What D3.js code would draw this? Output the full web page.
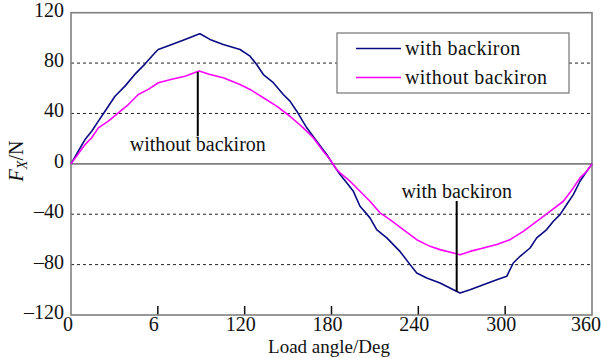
<!DOCTYPE html>
<html><head><meta charset="utf-8">
<script src="https://cdn.jsdelivr.net/npm/d3@7"></script>
<style>body{margin:0;background:#fff}svg{display:block}text{font-family:"Liberation Serif","Times New Roman",serif;fill:#111}</style>
</head><body><svg id="c" width="603" height="358"></svg>
<script>
// ---- data ----
const withAngle = [0,5.0,9.7,14.3,18.9,23.5,30.4,37.3,44.2,51.1,58.0,60.3,69.6,78.8,88.0,89.1,96.0,105.2,116.8,123.7,128.3,132.9,139.8,146.7,151.3,156.0,162.9,169.8,176.7,181.2,185.9,190.5,195.1,199.7,206.6,211.2,218.2,227.3,234.3,238.9,245.8,255.0,264.2,268.8,275.7,284.9,294.2,301.1,305.6,310.3,317.2,321.8,328.7,333.3,337.9,342.5,347.1,351.7,356.4,360];
const withForce = [0,10.0,19.3,25.9,33.9,41.8,53.7,61.7,71.2,79.2,88.2,90.8,94.8,98.8,102.8,103.3,98.8,94.8,90.8,85.5,78.9,70.9,64.4,55.1,49.8,41.8,28.6,18.0,7.4,-0.6,-8.5,-15.1,-21.8,-33.7,-42.9,-52.2,-58.8,-69.5,-80.0,-86.7,-90.6,-94.6,-99.9,-102.5,-99.9,-95.9,-92.0,-89.3,-78.7,-73.4,-66.8,-58.8,-52.2,-45.6,-40.3,-32.3,-24.4,-13.8,-5.9,0];
const withoutAngle = [0,9.7,14.3,18.9,25.8,32.7,39.6,46.5,53.4,60.3,69.6,78.8,88.0,89.1,96.0,105.2,116.8,123.7,132.9,142.1,151.3,160.5,167.4,174.3,179.0,183.6,185.9,192.8,199.7,206.6,213.5,220.4,229.6,238.9,248.1,255.0,264.2,268.8,275.7,284.9,294.2,303.3,312.5,321.8,331.0,340.2,347.1,351.7,356.4,360];
const withoutForce = [0,15.3,20.7,28.6,33.9,40.5,47.1,55.1,59.1,64.4,67.1,69.6,73.6,73.6,71.0,68.4,63.0,59.1,52.5,45.8,37.8,28.6,20.7,10.0,3.4,-4.5,-7.2,-13.8,-21.8,-29.7,-38.9,-44.3,-52.2,-60.2,-65.5,-68.1,-70.7,-72.1,-69.5,-66.8,-64.1,-60.2,-53.6,-45.6,-37.7,-29.7,-19.1,-11.1,-5.9,0];
const xTicks = [0,60,120,180,240,300,360];
const xTickLabels = ["0","6","120","180","240","300","360"];
const yTicks = [-120,-80,-40,0,40,80,120];
const yTickLabels = ["\u2013120","\u201380","\u201340","0","40","80","120"];
const gridValues = [-80,-40,40,80];
const seriesNames = ["with backiron","without backiron"];
const seriesColors = ["#0a0a85","#ff00ff"];
const annoText = ["without backiron","with backiron"];
const annoX = [87.6,266.5];
const annoTop = [73.0,-29.5];
const annoBottom = [21.9,-101.3];
const annoTextY = [10.0,-26.8];

// ---- chart ----
const svg = d3.select("#c");
const x = d3.scaleLinear().domain([0,360]).range([71,592]);
const y = d3.scaleLinear().domain([-120,120]).range([315,12.7]);
const gray = "#7f7f7f";
const fs = "20px";

// grid
svg.append("g").selectAll("line").data(gridValues).join("line")
  .attr("x1",x(0)).attr("x2",x(360)).attr("y1",d=>y(d)).attr("y2",d=>y(d))
  .attr("stroke","#222").attr("stroke-width",1).attr("stroke-dasharray","3,3");

// zero line
svg.append("line").attr("x1",x(0)).attr("x2",x(360)).attr("y1",y(0)).attr("y2",y(0))
  .attr("stroke",gray).attr("stroke-width",1.6);

// x ticks (inside)
svg.append("g").selectAll("line").data(xTicks.slice(1,-1)).join("line")
  .attr("x1",d=>x(d)).attr("x2",d=>x(d)).attr("y1",y(-120)).attr("y2",y(-120)-9)
  .attr("stroke","#111").attr("stroke-width",1.5);

// frame
svg.append("rect").attr("x",x(0)).attr("y",y(120)).attr("width",x(360)-x(0)).attr("height",y(-120)-y(120))
  .attr("fill","none").attr("stroke",gray).attr("stroke-width",1.6);

// tick labels
svg.append("g").selectAll("text").data(xTicks).join("text")
  .attr("x",(d,i)=> i===0 ? x(d)-3 : (i===xTicks.length-1 ? x(d)-6 : x(d)-4))
  .attr("y",331).attr("text-anchor","middle").style("font-size",fs)
  .text((d,i)=>xTickLabels[i]);
svg.append("g").selectAll("text").data(yTicks).join("text")
  .attr("x",64).attr("y",d=>y(d)+4).attr("text-anchor","end").style("font-size",fs)
  .text((d,i)=>yTickLabels[i]);

// axis titles
svg.append("text").attr("x",329).attr("y",353).attr("text-anchor","middle").style("font-size","19px").text("Load angle/Deg");
const yt = svg.append("text").attr("transform","translate(23,161) rotate(-90)").attr("text-anchor","middle").style("font-size",fs);
yt.append("tspan").style("font-style","italic").text("F");
yt.append("tspan").style("font-style","italic").style("font-size","14px").attr("dy",4).text("X");
yt.append("tspan").attr("dy",-4).text("/N");

// curves
const line = d3.line().x(d=>x(d[0])).y(d=>y(d[1]));
const seriesData = [d3.zip(withAngle,withForce), d3.zip(withoutAngle,withoutForce)];
svg.append("g").selectAll("path").data(seriesData).join("path")
  .attr("d",line).attr("fill","none").attr("stroke",(d,i)=>seriesColors[i])
  .attr("stroke-width",1.6).attr("stroke-linejoin","round");

// annotations
annoText.forEach((t,i)=>{
  svg.append("line").attr("x1",x(annoX[i])).attr("x2",x(annoX[i]))
    .attr("y1",y(annoTop[i])).attr("y2",y(annoBottom[i])).attr("stroke","#000").attr("stroke-width",2);
  svg.append("text").attr("x",x(annoX[i])).attr("y",y(annoTextY[i])).attr("text-anchor","middle")
    .style("font-size",fs).text(t);
});

// legend
const lg = svg.append("g");
lg.append("rect").attr("x",337).attr("y",33).attr("width",232).attr("height",60)
  .attr("fill","#fff").attr("stroke",gray).attr("stroke-width",1.3);
seriesNames.forEach((n,i)=>{
  const yy = 48.5 + i*29;
  lg.append("line").attr("x1",356).attr("x2",401).attr("y1",yy).attr("y2",yy)
    .attr("stroke",seriesColors[i]).attr("stroke-width",1.6);
  lg.append("text").attr("x",405).attr("y",yy+6).style("font-size",fs).style("letter-spacing","0.4px").text(n);
});
</script></body></html>
